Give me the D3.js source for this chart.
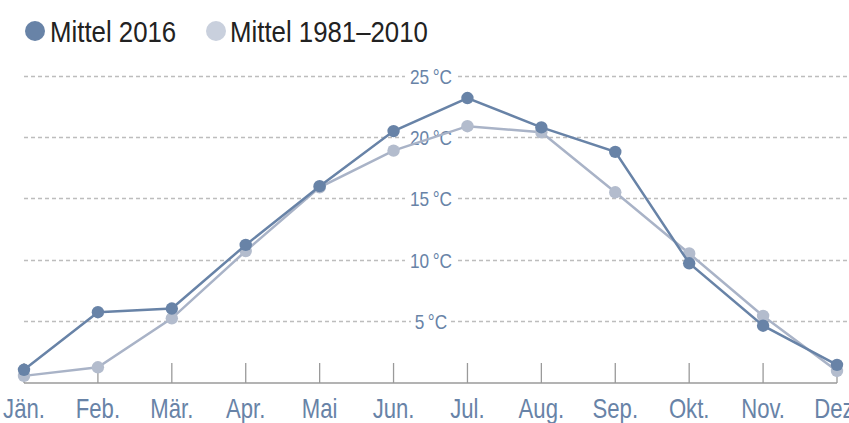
<!DOCTYPE html>
<html><head><meta charset="utf-8">
<script src="https://cdn.jsdelivr.net/npm/d3@7/dist/d3.min.js"></script>
<style>
html,body{margin:0;padding:0;background:#fff;overflow:hidden}
svg{display:block}
text{font-family:"Liberation Sans","Arial",sans-serif}
</style></head>
<body>
<script>
const months = ["Jän.","Feb.","Mär.","Apr.","Mai","Jun.","Jul.","Aug.","Sep.","Okt.","Nov.","Dez."];
const mittel2016 = [1.0, 5.7, 6.0, 11.2, 16.0, 20.5, 23.2, 20.8, 18.8, 9.7, 4.6, 1.4];
const mittel1981 = [0.5, 1.2, 5.2, 10.7, 15.9, 18.9, 20.9, 20.4, 15.5, 10.5, 5.4, 0.9];
const yTicks = [5, 10, 15, 20, 25];
const seriesNames = ["Mittel 2016", "Mittel 1981–2010"];

const W = 849, H = 423;
const svg = d3.select("body").append("svg").attr("width", W).attr("height", H);

const x = d3.scalePoint().domain(months).range([24, 837]);
const y = d3.scaleLinear().domain([0, 25]).range([382, 76]);

const cDark = "#6883a7", cLightLine = "#a9b3c7", cLightDot = "#b3bccd", cLegendLight = "#c9d0dd";
const SX = 0.82;

// grid
svg.append("g").selectAll("line").data(yTicks).join("line")
  .attr("x1", 24).attr("x2", 849)
  .attr("y1", d => Math.round(y(d)) + 0.5).attr("y2", d => Math.round(y(d)) + 0.5)
  .attr("stroke", "#bdbdbd").attr("stroke-width", 1.3).attr("stroke-dasharray", "4,3");

// y labels with white background
const labX = 431;
const yl = svg.append("g").selectAll("g").data(yTicks).join("g")
  .attr("transform", d => `translate(${labX},${Math.round(y(d))})`);
yl.append("rect").attr("x", d => d >= 10 ? -26 : -20).attr("width", d => d >= 10 ? 52 : 40)
  .attr("y", -5).attr("height", 10).attr("fill", "#fff");
yl.append("text").attr("text-anchor", "middle").attr("dy", "0.36em")
  .attr("transform", `scale(${SX},1)`)
  .attr("font-size", 21).attr("fill", cDark)
  .text(d => d + "\u202F°C");

// x axis
const xAxis = svg.append("g").attr("transform", "translate(0,383)");
xAxis.append("line").attr("x1", 24).attr("x2", 837).attr("stroke", "#9a9a9a").attr("stroke-width", 1.5);
xAxis.selectAll("line.tick").data(months).join("line").attr("class", "tick")
  .attr("x1", d => x(d)).attr("x2", d => x(d)).attr("y1", 0).attr("y2", -20)
  .attr("stroke", "#9a9a9a").attr("stroke-width", 1.3);
xAxis.selectAll("text").data(months).join("text")
  .attr("transform", d => `translate(${x(d)},35) scale(${SX},1)`).attr("text-anchor", "middle")
  .attr("font-size", 27).attr("fill", cDark).text(d => d);

const line = d3.line().x((d, i) => x(months[i])).y(d => y(d));

function drawSeries(data, lc, dc) {
  svg.append("path").datum(data).attr("d", line).attr("fill", "none")
    .attr("stroke", lc).attr("stroke-width", 2.5);
  svg.append("g").selectAll("circle").data(data).join("circle")
    .attr("cx", (d, i) => x(months[i])).attr("cy", d => y(d)).attr("r", 6.2)
    .attr("fill", dc);
}
drawSeries(mittel1981, cLightLine, cLightDot);
drawSeries(mittel2016, cDark, cDark);

// legend
const leg = [
  {name: seriesNames[0], color: cDark, cx: 35, tx: 50},
  {name: seriesNames[1], color: cLegendLight, cx: 216, tx: 230}
];
const lg = svg.append("g");
lg.selectAll("circle").data(leg).join("circle")
  .attr("cx", d => d.cx).attr("cy", 31).attr("r", 10).attr("fill", d => d.color);
lg.selectAll("text").data(leg).join("text")
  .attr("transform", d => `translate(${d.tx},42) scale(0.86,1)`)
  .attr("font-size", 30).attr("fill", "#222")
  .text(d => d.name);
</script>
</body></html>
